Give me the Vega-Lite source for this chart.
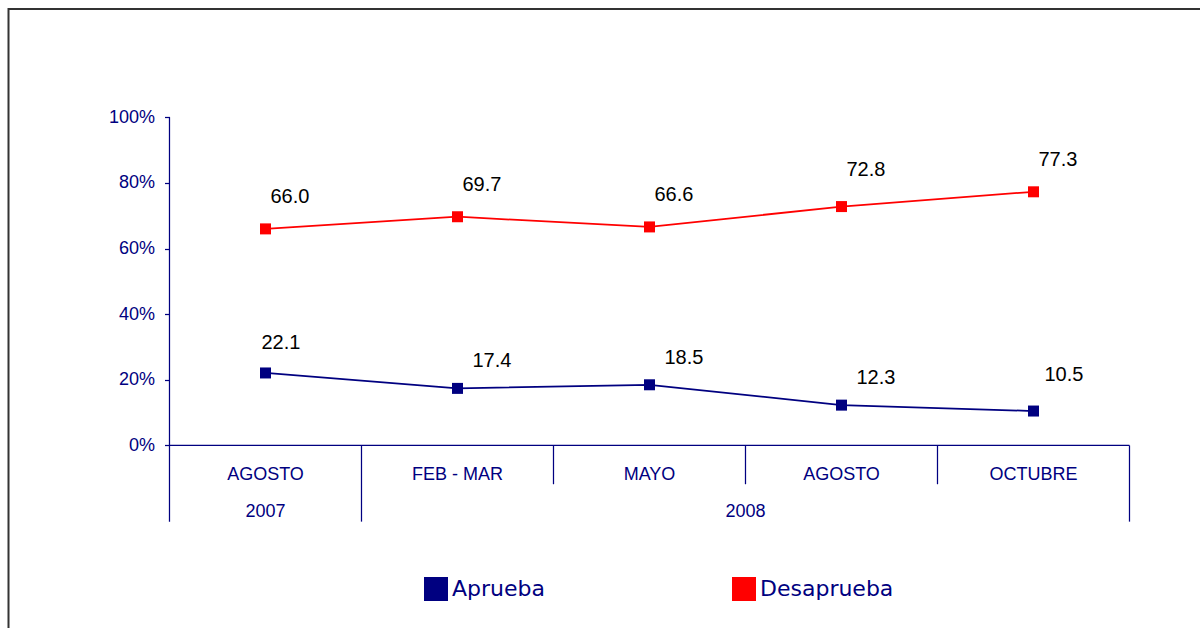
{
  "$schema": "https://vega.github.io/schema/vega-lite/v6.json",
  "width": 1200,
  "height": 630,
  "autosize": {"type": "none"},
  "padding": {"left": 8.5, "top": 9, "right": 0, "bottom": 0},
  "background": "white",
  "config": {
    "view": {"stroke": "#333333", "strokeWidth": 2},
    "font": "Liberation Sans"
  },
  "datasets": {
    "main": [
      {"periodo": "AGOSTO 2007", "serie": "Aprueba", "valor": 22.1},
      {"periodo": "FEB - MAR 2008", "serie": "Aprueba", "valor": 17.4},
      {"periodo": "MAYO 2008", "serie": "Aprueba", "valor": 18.5},
      {"periodo": "AGOSTO 2008", "serie": "Aprueba", "valor": 12.3},
      {"periodo": "OCTUBRE 2008", "serie": "Aprueba", "valor": 10.5},
      {"periodo": "AGOSTO 2007", "serie": "Desaprueba", "valor": 66.0},
      {"periodo": "FEB - MAR 2008", "serie": "Desaprueba", "valor": 69.7},
      {"periodo": "MAYO 2008", "serie": "Desaprueba", "valor": 66.6},
      {"periodo": "AGOSTO 2008", "serie": "Desaprueba", "valor": 72.8},
      {"periodo": "OCTUBRE 2008", "serie": "Desaprueba", "valor": 77.3}
    ]
  },
  "layer": [
    {
      "data": {"name": "main"},
      "mark": {"type": "line", "strokeWidth": 1.75},
      "encoding": {
        "x": {
          "field": "periodo", "type": "nominal",
          "scale": {
            "domain": ["AGOSTO 2007", "FEB - MAR 2008", "MAYO 2008", "AGOSTO 2008", "OCTUBRE 2008"],
            "paddingInner": 0, "paddingOuter": 0.625, "align": 0.6708
          },
          "axis": {
            "orient": "bottom", "offset": -193.5, "domain": false, "ticks": false, "grid": false,
            "labelExpr": "substring(datum.label, 0, length(datum.label) - 5)",
            "labelColor": "#000080", "labelFontSize": 18, "labelFont": "Liberation Sans",
            "labelPadding": 19.5, "labelAngle": 0, "title": null
          }
        },
        "y": {
          "field": "valor", "type": "quantitative",
          "scale": {"domain": [-58.96, 133.0], "nice": false, "zero": false},
          "axis": {
            "orient": "left", "offset": -161, "domain": false, "grid": false,
            "values": [0, 20, 40, 60, 80, 100],
            "labelExpr": "datum.value + '%'",
            "tickSize": 5, "tickColor": "#000080", "tickWidth": 1.25,
            "labelColor": "#000080", "labelFontSize": 18, "labelFont": "Liberation Sans",
            "labelPadding": 10, "title": null
          }
        },
        "color": {
          "field": "serie", "type": "nominal",
          "scale": {"domain": ["Aprueba", "Desaprueba"], "range": ["#000080", "#FF0000"]},
          "legend": {
            "orient": "none", "legendX": 415.5, "legendY": 568, "direction": "horizontal",
            "title": null, "symbolType": "square", "symbolSize": 576, "symbolStrokeWidth": 0,
            "symbolOpacity": 1, "labelFont": "DejaVu Sans", "labelFontSize": 22,
            "labelColor": "#000080", "labelOffset": 4, "columnPadding": 187, "padding": 0,
            "encode": {"symbols": {"update": {"fill": {"scale": "color", "field": "value"}, "fillOpacity": {"value": 1}, "strokeWidth": {"value": 0}}}}
          }
        }
      }
    },
    {
      "data": {"name": "main"},
      "mark": {"type": "point", "shape": "square", "size": 121, "filled": true, "opacity": 1},
      "encoding": {
        "x": {"field": "periodo", "type": "nominal"},
        "y": {"field": "valor", "type": "quantitative"},
        "color": {"field": "serie", "type": "nominal"}
      }
    },
    {
      "data": {"name": "main"},
      "transform": [{"filter": "datum.serie == 'Desaprueba' && datum.valor != 72.8"}],
      "mark": {"type": "text", "align": "left", "baseline": "alphabetic", "dx": 5, "dy": -26, "fontSize": 20, "color": "black"},
      "encoding": {
        "x": {"field": "periodo", "type": "nominal"},
        "y": {"field": "valor", "type": "quantitative"},
        "text": {"field": "valor", "format": ".1f"}
      }
    },
    {
      "data": {"name": "main"},
      "transform": [{"filter": "datum.serie == 'Desaprueba' && datum.valor == 72.8"}],
      "mark": {"type": "text", "align": "left", "baseline": "alphabetic", "dx": 5, "dy": -31, "fontSize": 20, "color": "black"},
      "encoding": {
        "x": {"field": "periodo", "type": "nominal"},
        "y": {"field": "valor", "type": "quantitative"},
        "text": {"field": "valor", "format": ".1f"}
      }
    },
    {
      "data": {"name": "main"},
      "transform": [{"filter": "datum.serie == 'Aprueba' && datum.valor != 22.1 && datum.valor != 10.5"}],
      "mark": {"type": "text", "align": "left", "baseline": "alphabetic", "dx": 15, "dy": -21, "fontSize": 20, "color": "black"},
      "encoding": {
        "x": {"field": "periodo", "type": "nominal"},
        "y": {"field": "valor", "type": "quantitative"},
        "text": {"field": "valor", "format": ".1f"}
      }
    },
    {
      "data": {"name": "main"},
      "transform": [{"filter": "datum.serie == 'Aprueba' && datum.valor == 22.1"}],
      "mark": {"type": "text", "align": "left", "baseline": "alphabetic", "dx": -4, "dy": -24, "fontSize": 20, "color": "black"},
      "encoding": {
        "x": {"field": "periodo", "type": "nominal"},
        "y": {"field": "valor", "type": "quantitative"},
        "text": {"field": "valor", "format": ".1f"}
      }
    },
    {
      "data": {"name": "main"},
      "transform": [{"filter": "datum.serie == 'Aprueba' && datum.valor == 10.5"}],
      "mark": {"type": "text", "align": "left", "baseline": "alphabetic", "dx": 11, "dy": -30, "fontSize": 20, "color": "black"},
      "encoding": {
        "x": {"field": "periodo", "type": "nominal"},
        "y": {"field": "valor", "type": "quantitative"},
        "text": {"field": "valor", "format": ".1f"}
      }
    },
    {
      "data": {"values": [{"periodo": "AGOSTO 2007"}]},
      "mark": {"type": "rule", "color": "#000080", "strokeWidth": 1.25},
      "encoding": {
        "x": {"field": "periodo", "type": "nominal", "bandPosition": 0},
        "y": {"datum": 100, "type": "quantitative"},
        "y2": {"datum": -23.2}
      }
    },
    {
      "data": {"values": [{"periodo": "FEB - MAR 2008"}]},
      "mark": {"type": "rule", "color": "#000080", "strokeWidth": 1.25},
      "encoding": {
        "x": {"field": "periodo", "type": "nominal", "bandPosition": 0},
        "y": {"datum": 0, "type": "quantitative"},
        "y2": {"datum": -23.2}
      }
    },
    {
      "data": {"values": [{"periodo": "OCTUBRE 2008"}]},
      "mark": {"type": "rule", "color": "#000080", "strokeWidth": 1.25},
      "encoding": {
        "x": {"field": "periodo", "type": "nominal", "bandPosition": 1},
        "y": {"datum": 0, "type": "quantitative"},
        "y2": {"datum": -23.2}
      }
    },
    {
      "data": {"values": [{"periodo": "MAYO 2008"}, {"periodo": "AGOSTO 2008"}, {"periodo": "OCTUBRE 2008"}]},
      "mark": {"type": "rule", "color": "#000080", "strokeWidth": 1.25},
      "encoding": {
        "x": {"field": "periodo", "type": "nominal", "bandPosition": 0},
        "y": {"datum": 0, "type": "quantitative"},
        "y2": {"datum": -11.8}
      }
    },
    {
      "data": {"values": [{"desde": "AGOSTO 2007", "hasta": "OCTUBRE 2008"}]},
      "mark": {"type": "rule", "color": "#000080", "strokeWidth": 1.25},
      "encoding": {
        "x": {"field": "desde", "type": "nominal", "bandPosition": 0},
        "x2": {"field": "hasta", "bandPosition": 1},
        "y": {"datum": 0, "type": "quantitative"}
      }
    },
    {
      "data": {"values": [{"periodo": "AGOSTO 2007", "anio": "2007"}]},
      "mark": {"type": "text", "align": "center", "baseline": "alphabetic", "fontSize": 18, "color": "#000080"},
      "encoding": {
        "x": {"field": "periodo", "type": "nominal", "bandPosition": 0.5},
        "y": {"datum": -21.9, "type": "quantitative"},
        "text": {"field": "anio"}
      }
    },
    {
      "data": {"values": [{"periodo": "AGOSTO 2008", "anio": "2008"}]},
      "mark": {"type": "text", "align": "center", "baseline": "alphabetic", "fontSize": 18, "color": "#000080"},
      "encoding": {
        "x": {"field": "periodo", "type": "nominal", "bandPosition": 0},
        "y": {"datum": -21.9, "type": "quantitative"},
        "text": {"field": "anio"}
      }
    }
  ]
}
